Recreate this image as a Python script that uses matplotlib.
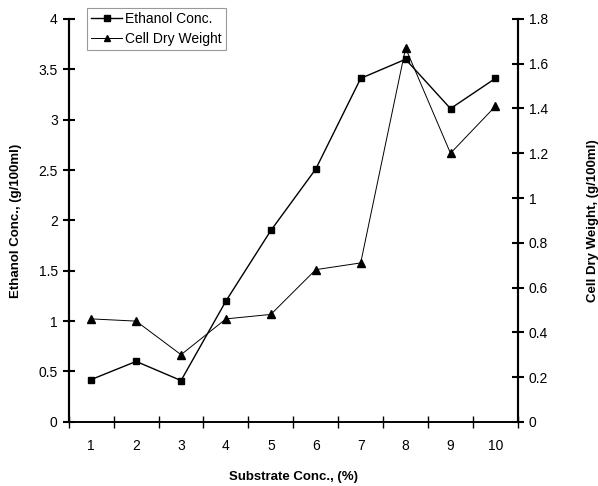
import numpy as np
import matplotlib.pyplot as plt

plt.rcParams['font.family'] = ['Liberation Sans', 'DejaVu Sans']

substrate = [1, 2, 3, 4, 5, 6, 7, 8, 9, 10]
ethanol = [0.42, 0.6, 0.41, 1.2, 1.9, 2.51, 3.41, 3.6, 3.11, 3.41]
cell_dry = [0.46, 0.45, 0.30, 0.46, 0.48, 0.68, 0.71, 1.67, 1.2, 1.41]

fig = plt.figure(figsize=(5.98, 4.86), dpi=100)
ax = fig.add_axes([0.115, 0.132, 0.751, 0.829])
ax2 = ax.twinx()

l1, = ax.plot(substrate, ethanol, color='black', lw=1.0, marker='s', ms=5)
l2, = ax2.plot(substrate, cell_dry, color='black', lw=0.7, marker='^', ms=5.5)

ax.set_xlim(0.5, 10.5)
ax.set_ylim(0, 4)
ax2.set_ylim(0, 1.8)
ax.set_yticks(np.arange(0, 4.01, 0.5))
ax.set_yticklabels(['0', '0.5', '1', '1.5', '2', '2.5', '3', '3.5', '4'])
ax2.set_yticks(np.arange(0, 1.81, 0.2))
ax2.set_yticklabels(['0', '0.2', '0.4', '0.6', '0.8', '1', '1.2', '1.4', '1.6', '1.8'])

ax.set_xticks(substrate)
ax.set_xticks(np.arange(0.5, 10.6, 1), minor=True)
ax.tick_params(axis='x', which='major', length=0, pad=12, labelsize=10)
ax.tick_params(axis='x', which='minor', length=8, direction='inout', width=1)
ax.tick_params(axis='y', length=8, direction='inout', width=1.5, labelsize=10, pad=4)
ax2.tick_params(axis='y', length=8, direction='inout', width=1.5, labelsize=10, pad=4)

for a in (ax, ax2):
    a.spines['top'].set_visible(False)
    a.spines['left'].set_linewidth(1.5)
    a.spines['right'].set_linewidth(1.5)
    a.spines['bottom'].set_linewidth(1.2)

ax.set_xlabel('Substrate Conc., (%)', fontweight='bold', fontsize=9.5, labelpad=13)
ax.set_ylabel('Ethanol Conc., (g/100ml)', fontweight='bold', fontsize=9.5, labelpad=12)
ax2.set_ylabel('Cell Dry Weight, (g/100ml)', fontweight='bold', fontsize=9.5,
               rotation=90, labelpad=28)

leg = ax.legend([l1, l2], ['Ethanol Conc.', 'Cell Dry Weight'], loc='upper left',
                bbox_to_anchor=(0.035, 1.035), fontsize=10, frameon=True, fancybox=False,
                edgecolor='#808080', handlelength=2.2, handletextpad=0.2,
                borderpad=0.3, labelspacing=0.45, borderaxespad=0.2)
leg.get_frame().set_linewidth(0.8)
for h in leg.legend_handles:
    h.set_markersize(4.5)

fig.savefig('out.png', dpi=100)
